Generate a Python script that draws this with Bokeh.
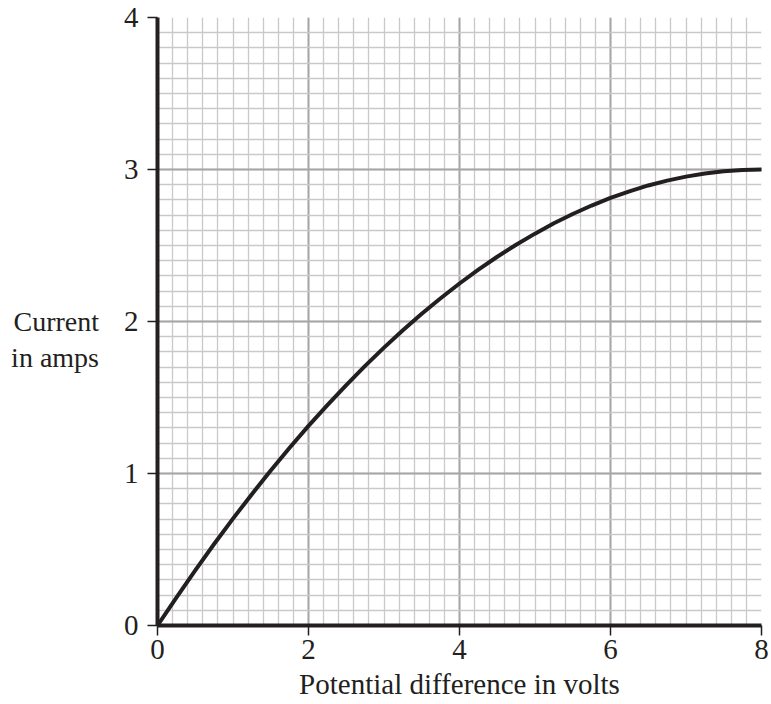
from bokeh.plotting import figure
from bokeh.models import Range1d, SingleIntervalTicker, ColumnDataSource
from bokeh.embed import file_html
from bokeh.resources import INLINE

# Data
voltage = [0, 0.25, 0.5, 0.75, 1.0, 1.25, 1.5, 1.75, 2.0, 2.25, 2.5, 2.75, 3.0, 3.25, 3.5, 3.75,
           4.0, 4.25, 4.5, 4.75, 5.0, 5.25, 5.5, 5.75, 6.0, 6.25, 6.5, 6.75, 7.0, 7.25, 7.5, 7.75, 8.0]
current = [0, 0.184, 0.363, 0.536, 0.703, 0.864, 1.020, 1.169, 1.313, 1.450, 1.582, 1.708, 1.828,
           1.942, 2.051, 2.153, 2.250, 2.341, 2.426, 2.505, 2.578, 2.646, 2.707, 2.763, 2.813,
           2.856, 2.895, 2.927, 2.953, 2.974, 2.988, 2.997, 3.0]

x_title = "Potential difference in volts"
y_title = "\nCurrent\nin amps"

FONT = "Liberation Serif"
INK = "#231f20"
FS = "29px"

p = figure(
    frame_width=604, frame_height=608,
    min_border_left=157, min_border_top=17, min_border_right=9, min_border_bottom=71,
    x_range=Range1d(0, 8), y_range=Range1d(0, 4),
    output_backend="svg", toolbar_location=None,
)
p.outline_line_color = None
p.background_fill_color = "white"
p.border_fill_color = "white"

xt = SingleIntervalTicker(interval=2, num_minor_ticks=10)
yt = SingleIntervalTicker(interval=1, num_minor_ticks=10)
p.xaxis.ticker = xt
p.yaxis.ticker = yt
p.xgrid.ticker = xt
p.ygrid.ticker = yt

for g in (p.xgrid, p.ygrid):
    g.grid_line_color = "#a6a6a6"
    g.grid_line_width = 2
    g.minor_grid_line_color = "#c9c9c9"
    g.minor_grid_line_width = 1.3

for ax in (p.xaxis, p.yaxis):
    ax.axis_line_color = INK
    ax.axis_line_width = 4
    ax.major_tick_line_color = INK
    ax.major_tick_line_width = 1.5
    ax.major_tick_out = 10
    ax.major_tick_in = 0
    ax.minor_tick_line_color = None
    ax.major_label_text_font = FONT
    ax.major_label_text_font_size = FS
    ax.major_label_text_color = INK
    ax.axis_label_text_font = FONT
    ax.axis_label_text_font_size = FS
    ax.axis_label_text_font_style = "normal"
    ax.axis_label_text_color = INK

p.xaxis.major_label_standoff = 4
p.yaxis.major_label_standoff = 9
p.xaxis.axis_label = x_title
p.xaxis.axis_label_standoff = 6
p.yaxis.axis_label = y_title
p.yaxis.axis_label_orientation = "horizontal"
p.yaxis.axis_label_standoff = 22
p.yaxis.axis_label_text_align = "left"
p.yaxis.axis_label_text_font_size = "28px"
p.yaxis.axis_label_text_line_height = 1.15

src = ColumnDataSource(dict(v=voltage, i=current))
p.line("v", "i", source=src, line_color=INK, line_width=4, line_join="round", line_cap="round")

open("out.html", "w").write(file_html(p, INLINE))
